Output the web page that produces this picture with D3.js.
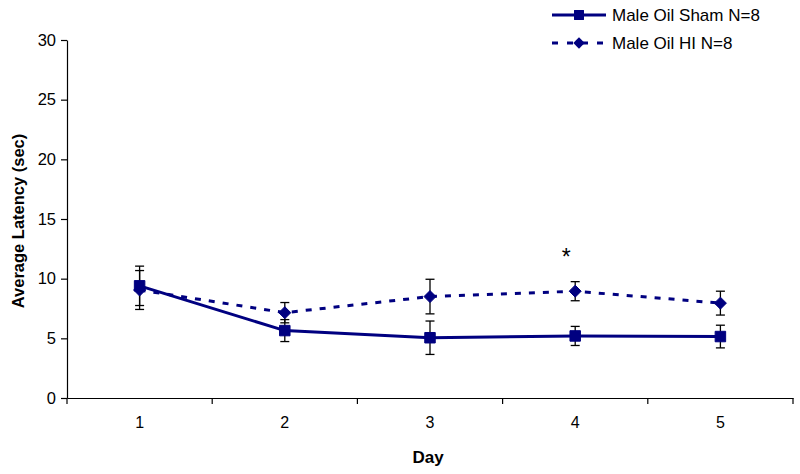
<!DOCTYPE html>
<html><head><meta charset="utf-8">
<script src="https://cdn.jsdelivr.net/npm/d3@7/dist/d3.min.js"></script>
<style>body{margin:0;background:#fff}svg{display:block;font-family:"Liberation Sans",Arial,sans-serif}</style>
</head><body><svg id="c" width="800" height="474"></svg>
<script>
const days = ["1","2","3","4","5"];
const shamMean = [9.4, 5.65, 5.05, 5.2, 5.15];
const shamErr  = [1.65, 0.92, 1.4, 0.8, 0.95];
const hiMean   = [9.05, 7.15, 8.5, 8.95, 7.95];
const hiErr    = [1.63, 0.85, 1.45, 0.8, 1.0];
const yTicks   = [0, 5, 10, 15, 20, 25, 30];
const seriesNames = ["Male Oil Sham N=8", "Male Oil HI N=8"];
const annotations = [{day: "4", text: "*"}];

const svg = d3.select("#c");
const L = 67, R = 793, T = 40, B = 398;
const navy = "#000080";
const FF = "Liberation Sans, Arial, sans-serif";
const x = d3.scaleBand().domain(days).range([L, R]);
const cx = d => x(d) + x.bandwidth() / 2;
const y = d3.scaleLinear().domain([0, 30]).range([B, T]);

// Y axis
const ya = svg.append("g").attr("transform", `translate(${L},0)`)
  .call(d3.axisLeft(y).tickValues(yTicks).tickSize(6).tickSizeOuter(0).tickPadding(5));
ya.select(".domain").attr("stroke", "#000").attr("stroke-width", 1.2);
ya.selectAll(".tick line").attr("stroke", "#000").attr("stroke-width", 1.2);
ya.selectAll(".tick text").attr("font-size", 16.5).attr("fill", "#000").attr("font-family", FF);

// X axis
const xa = svg.append("g").attr("transform", `translate(0,${B})`)
  .call(d3.axisBottom(x).tickSize(0).tickSizeOuter(0).tickPadding(19));
xa.select(".domain").attr("stroke", "#000").attr("stroke-width", 1.2);
xa.selectAll(".tick text").attr("font-size", 16).attr("fill", "#000").attr("font-family", FF);
const bounds = days.map(d => x(d)).concat([x(days[days.length-1]) + x.step()]);
xa.selectAll(".bt").data(bounds).enter().append("line")
  .attr("x1", d => d).attr("x2", d => d).attr("y1", 0).attr("y2", 6)
  .attr("stroke", "#000").attr("stroke-width", 1.2);

// titles
svg.append("text").attr("transform", `translate(24,${(T+B)/2 + 2}) rotate(-90)`)
  .attr("text-anchor", "middle").attr("font-weight", "bold").attr("font-size", 16.5).text("Average Latency (sec)");
svg.append("text").attr("x", (L+R)/2 - 2).attr("y", 463).attr("text-anchor", "middle")
  .attr("font-weight", "bold").attr("font-size", 17).text("Day");

const diamond = {draw(ctx, size) { const r = Math.sqrt(size / 2); ctx.moveTo(0, -r); ctx.lineTo(r, 0); ctx.lineTo(0, r); ctx.lineTo(-r, 0); ctx.closePath(); }};
const series = [
  {name: seriesNames[0], mean: shamMean, err: shamErr, dash: null, shape: d3.symbolSquare, size: 110},
  {name: seriesNames[1], mean: hiMean, err: hiErr, dash: "6,8", shape: diamond, size: 72}
];

const line = d3.line().x((v, i) => cx(days[i])).y(v => y(v));

series.forEach(s => {
  svg.append("path").attr("d", line(s.mean)).attr("fill", "none").attr("stroke", navy)
    .attr("stroke-width", 3).attr("stroke-dasharray", s.dash);
});
series.forEach(s => {
  const g = svg.append("g");
  s.mean.forEach((m, i) => {
    const px = cx(days[i]);
    const y1 = y(m + s.err[i]), y2 = y(m - s.err[i]);
    g.append("line").attr("x1", px).attr("x2", px).attr("y1", y1).attr("y2", y2).attr("stroke", "#000").attr("stroke-width", 1.3);
    [y1, y2].forEach(yy => g.append("line").attr("x1", px-4.5).attr("x2", px+4.5).attr("y1", yy).attr("y2", yy).attr("stroke", "#000").attr("stroke-width", 1.3));
  });
});
series.forEach(s => {
  svg.append("g").selectAll("path").data(s.mean).enter().append("path")
    .attr("d", d3.symbol().type(s.shape).size(s.size))
    .attr("transform", (m, i) => `translate(${cx(days[i])},${y(m)})`)
    .attr("fill", navy).attr("stroke", navy).attr("stroke-width", 1);
});

// annotation
annotations.forEach(a => {
  const i = days.indexOf(a.day);
  svg.append("text").attr("x", cx(a.day) - 9).attr("y", y(hiMean[i] + hiErr[i]) - 17)
    .attr("text-anchor", "middle").attr("font-size", 23).attr("font-family", FF).text(a.text);
});

// legend
series.forEach((s, k) => {
  const ly = 15 + k * 28;
  svg.append("line").attr("x1", 552).attr("x2", 606).attr("y1", ly).attr("y2", ly)
    .attr("stroke", navy).attr("stroke-width", 3).attr("stroke-dasharray", s.dash ? "6,9" : null);
  svg.append("path").attr("d", d3.symbol().type(s.shape).size(s.size*0.9)).attr("transform", `translate(579,${ly})`).attr("fill", navy);
  svg.append("text").attr("x", 612).attr("y", ly + 6).attr("font-size", 17).attr("font-family", FF).text(s.name);
});
</script></body></html>
